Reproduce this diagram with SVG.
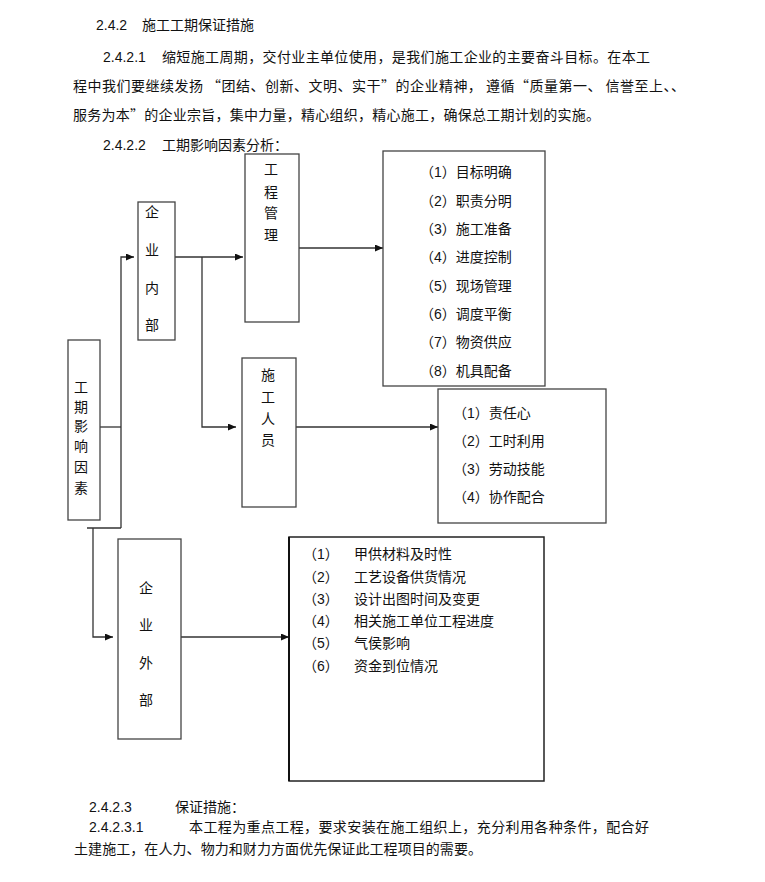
<svg xmlns="http://www.w3.org/2000/svg" width="765" height="882" viewBox="0 0 765 882">
<style>
  .t { font-family: "Liberation Sans", "Noto Sans CJK SC", sans-serif; font-size: 14px; fill: #111; }
  .c { font-family: "Noto Sans CJK SC", sans-serif; font-size: 14px; fill: #111; }
  .n { font-family: "Liberation Sans", sans-serif; font-size: 14px; fill: #111; }
  .box { fill: #fff; stroke: #444; stroke-width: 1.3; }
  .bigbox { fill: #fff; stroke: #222; stroke-width: 1.5; }
  .line { fill: none; stroke: #333; stroke-width: 1.3; }
  .vc { text-anchor: middle; }
</style>
<defs>
  <marker id="arr" markerUnits="userSpaceOnUse" markerWidth="9" markerHeight="8" refX="8" refY="3.5" orient="auto">
    <path d="M0,0 L8,3.5 L0,7 z" fill="#111"/>
  </marker>
</defs>
<rect width="765" height="882" fill="#fff"/>

<g id="text-top">
  <text class="n" x="96" y="30">2.4.2</text>
  <text class="c" x="142" y="30">施工工期保证措施</text>
  <text class="n" x="103" y="62">2.4.2.1</text>
  <text class="c" x="162" y="62" textLength="488" lengthAdjust="spacing">缩短施工周期，交付业主单位使用，是我们施工企业的主要奋斗目标。在本工</text>
  <text class="c" x="73" y="91" textLength="612" lengthAdjust="spacing">程中我们要继续发扬 “团结、创新、文明、实干”的企业精神， 遵循“质量第一、 信誉至上、、</text>
  <text class="c" x="73" y="120" textLength="527" lengthAdjust="spacing">服务为本”的企业宗旨，集中力量，精心组织，精心施工，确保总工期计划的实施。</text>
  <text class="n" x="103" y="150">2.4.2.2</text>
  <text class="c" x="162" y="150">工期影响因素分析：</text>
</g>

<g id="connectors">
  <polyline class="line" points="100,427 121,427"/>
  <polyline class="line" points="121,528 121,257 134,257" marker-end="url(#arr)"/>
  <polyline class="line" points="87,528 121,528"/>
  <polyline class="line" points="93,528 93,637 113,637" marker-end="url(#arr)"/>
  <polyline class="line" points="175,257 243,257" marker-end="url(#arr)"/>
  <polyline class="line" points="202,257 202,427 236,427" marker-end="url(#arr)"/>
  <polyline class="line" points="296,248 383,248" marker-end="url(#arr)"/>
  <polyline class="line" points="289,427 438,427" marker-end="url(#arr)"/>
  <polyline class="line" points="181,637 289,637" marker-end="url(#arr)"/>
</g>

<g id="node-gongqi">
  <rect class="box" x="68" y="340" width="32" height="180"/>
  <text class="c vc" x="81" y="392">工</text>
  <text class="c vc" x="81" y="412">期</text>
  <text class="c vc" x="81" y="431">影</text>
  <text class="c vc" x="81" y="451">响</text>
  <text class="c vc" x="81" y="472">因</text>
  <text class="c vc" x="81" y="493">素</text>
</g>

<g id="node-neibu">
  <rect class="box" x="138" y="202" width="37" height="138"/>
  <text class="c vc" x="152" y="217">企</text>
  <text class="c vc" x="152" y="255">业</text>
  <text class="c vc" x="152" y="293">内</text>
  <text class="c vc" x="152" y="330">部</text>
</g>

<g id="node-gongcheng">
  <rect class="box" x="245" y="154" width="54" height="168"/>
  <text class="c vc" x="271" y="174">工</text>
  <text class="c vc" x="271" y="197">程</text>
  <text class="c vc" x="271" y="218">管</text>
  <text class="c vc" x="271" y="240">理</text>
</g>

<g id="node-renyuan">
  <rect class="box" x="242" y="358" width="54" height="149"/>
  <text class="c vc" x="268" y="380">施</text>
  <text class="c vc" x="268" y="402">工</text>
  <text class="c vc" x="268" y="424">人</text>
  <text class="c vc" x="268" y="445">员</text>
</g>

<g id="node-waibu">
  <rect class="box" x="118" y="539" width="63" height="200"/>
  <text class="c vc" x="146" y="593">企</text>
  <text class="c vc" x="146" y="630">业</text>
  <text class="c vc" x="146" y="668">外</text>
  <text class="c vc" x="146" y="705">部</text>
</g>

<g id="node-list1">
  <rect class="box" x="383" y="151" width="162" height="235"/>
  <text class="t" x="420" y="177">（1）目标明确</text>
  <text class="t" x="420" y="206">（2）职责分明</text>
  <text class="t" x="420" y="234">（3）施工准备</text>
  <text class="t" x="420" y="262">（4）进度控制</text>
  <text class="t" x="420" y="291">（5）现场管理</text>
  <text class="t" x="420" y="319">（6）调度平衡</text>
  <text class="t" x="420" y="347">（7）物资供应</text>
  <text class="t" x="420" y="376">（8）机具配备</text>
</g>

<g id="node-list2">
  <rect class="box" x="438" y="389" width="168" height="134"/>
  <text class="t" x="453" y="418">（1）责任心</text>
  <text class="t" x="453" y="446">（2）工时利用</text>
  <text class="t" x="453" y="474">（3）劳动技能</text>
  <text class="t" x="453" y="502">（4）协作配合</text>
</g>

<g id="node-list3">
  <rect class="bigbox" x="289" y="537" width="255" height="244"/>
  <line x1="289" y1="537" x2="289" y2="781" stroke="#111" stroke-width="2"/>
  <text class="t" x="303" y="559">（1）</text><text class="c" x="354" y="559">甲供材料及时性</text>
  <text class="t" x="303" y="582">（2）</text><text class="c" x="354" y="582">工艺设备供货情况</text>
  <text class="t" x="303" y="604">（3）</text><text class="c" x="354" y="604">设计出图时间及变更</text>
  <text class="t" x="303" y="626">（4）</text><text class="c" x="354" y="626">相关施工单位工程进度</text>
  <text class="t" x="303" y="648">（5）</text><text class="c" x="354" y="648">气侯影响</text>
  <text class="t" x="303" y="671">（6）</text><text class="c" x="354" y="671">资金到位情况</text>
</g>

<g id="text-bottom">
  <text class="n" x="89" y="812">2.4.2.3</text>
  <text class="c" x="175" y="812">保证措施：</text>
  <text class="n" x="89" y="832">2.4.2.3.1</text>
  <text class="c" x="189" y="832" textLength="460" lengthAdjust="spacing">本工程为重点工程，要求安装在施工组织上，充分利用各种条件，配合好</text>
  <text class="c" x="74" y="854" textLength="408" lengthAdjust="spacing">土建施工，在人力、物力和财力方面优先保证此工程项目的需要。</text>
</g>
</svg>
